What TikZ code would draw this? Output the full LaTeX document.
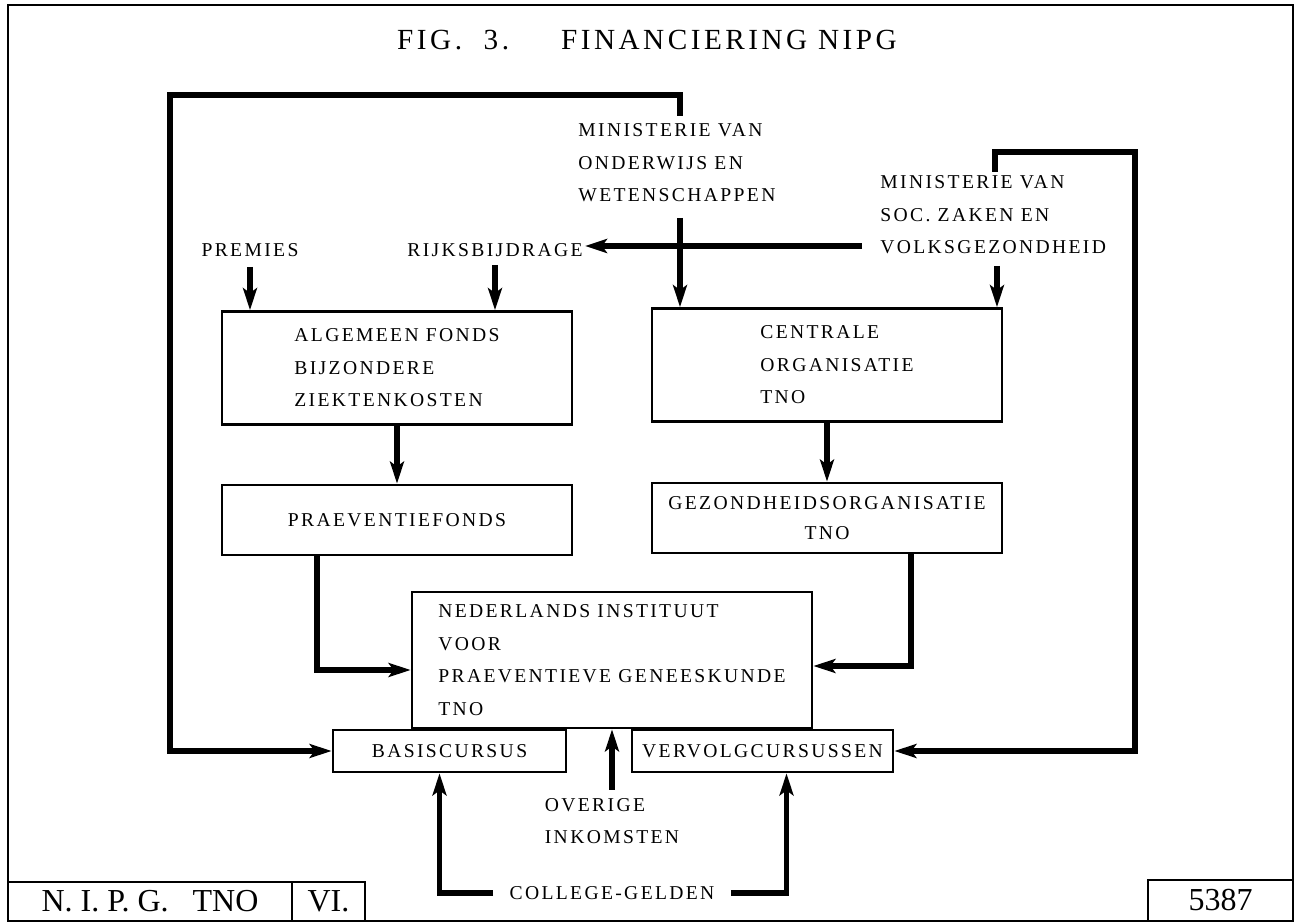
\documentclass[tikz,border=0pt]{standalone}
\usepackage{fontspec}
\setmainfont{Liberation Serif}[LetterSpace=12]
\newfontfamily\plainfont{Liberation Serif}
\usetikzlibrary{arrows.meta}
\newcommand\dgfont{\fontsize{9.8}{16.25}\selectfont}
\begin{document}
\begin{tikzpicture}[x=0.5pt,y=-0.5pt,
  box/.style={draw,line width=1.4pt,inner sep=2pt,align=left,font=\dgfont},
  txt/.style={inner sep=1pt,align=left,font=\dgfont},
  tagbox/.style={draw,line width=1.1pt,inner sep=0pt,minimum height=19.5pt,font=\plainfont\fontsize{16}{18}\selectfont},
  flow/.style={line width=2.6pt,-{Stealth[length=11pt,width=7pt,inset=2.5pt]}},
  ]
\useasboundingbox (0,0) rectangle (1301,924);
\draw[line width=1.1pt] (8,5) rectangle (1293,921);

\node[font=\fontsize{14.6}{16}\selectfont] (title) at (647,40) {FIG.\ \ 3.\hspace{26pt}FINANCIERING NIPG};

% texts
\node[txt,anchor=west] (mow) at (576,163) {MINISTERIE VAN\\ONDERWIJS EN\\WETENSCHAPPEN};
\node[txt,anchor=west] (msz) at (878,215) {MINISTERIE VAN\\SOC.\ ZAKEN EN\\VOLKSGEZONDHEID};
\node[txt] (premies) at (250,250) {PREMIES};
\node[txt] (rijks) at (495,250) {RIJKSBIJDRAGE};

% boxes
\node[box,minimum width=175pt,minimum height=56.5pt] (algemeen) at (397,368) {ALGEMEEN FONDS\\BIJZONDERE\\ZIEKTENKOSTEN};
\node[box,minimum width=175pt,minimum height=56.5pt] (centrale) at (827,365) {};
\node[txt,anchor=west] (centraletxt) at (758,365) {CENTRALE\\ORGANISATIE\\TNO};
\node[box,minimum width=175pt,minimum height=35pt] (praev) at (397,520) {PRAEVENTIEFONDS};
\node[box,minimum width=175pt,minimum height=35pt,align=center] (gezond) at (827,518) {GEZONDHEIDSORGANISATIE\\[-1.5pt]TNO};
\node[box,minimum width=200pt,minimum height=68pt] (nipg) at (612,660) {NEDERLANDS INSTITUUT\\VOOR\\PRAEVENTIEVE GENEESKUNDE\\TNO};
\node[box,minimum width=116.5pt,minimum height=21pt] (basis) at (449.5,751) {BASISCURSUS};
\node[box,minimum width=130.5pt,minimum height=21pt] (vervolg) at (762.5,751) {VERVOLGCURSUSSEN};
\node[txt] (overige) at (612,821) {OVERIGE\\INKOMSTEN};
\node[txt] (college) at (612,893) {COLLEGE-GELDEN};

% bottom tags
\node[tagbox,minimum width=142pt] (tag) at (150,901.5) {N.\ I.\ P.\ G.\ \ \ TNO};
\node[tagbox,minimum width=36.5pt] (vi) at (328.5,901.5) {VI.};
\node[tagbox,minimum width=72.5pt,minimum height=20.5pt] (num) at (1220.5,900.5) {5387};

% connectors
\coordinate (owtop) at (680,116);
\draw[flow] (owtop) |- (170,95) |- (basis.west);
\coordinate (owbot) at (680,218);
\draw[flow] (owbot) -- (owbot |- centrale.north);
\coordinate (szleft) at (862,246);
\draw[flow] (szleft) -- (szleft -| rijks.east);
\coordinate (sztop) at (995,172);
\draw[flow] (sztop) |- (1135,152) |- (vervolg.east);
\coordinate (szbot) at (997,266);
\draw[flow] (szbot) -- (szbot |- centrale.north);
\draw[flow] ([yshift=-4pt]premies.south) -- (premies.south |- algemeen.north);
\draw[flow] ([yshift=-3pt]rijks.south) -- (rijks.south |- algemeen.north);
\draw[flow] (algemeen.south) -- (praev.north);
\draw[flow] (centrale.south) -- (gezond.north);
\draw[flow] ([xshift=-40pt]praev.south) |- ([yshift=-5pt]nipg.west);
\draw[flow] ([xshift=42pt]gezond.south) |- ([yshift=-3pt]nipg.east);
\draw[flow] ([yshift=3pt]overige.north) -- (overige.north |- nipg.south);
\draw[flow] ([xshift=-7pt]college.west) -| ([xshift=-5pt]basis.south);
\draw[flow] ([xshift=7pt]college.east) -| ([xshift=12pt]vervolg.south);
\end{tikzpicture}
\end{document}
